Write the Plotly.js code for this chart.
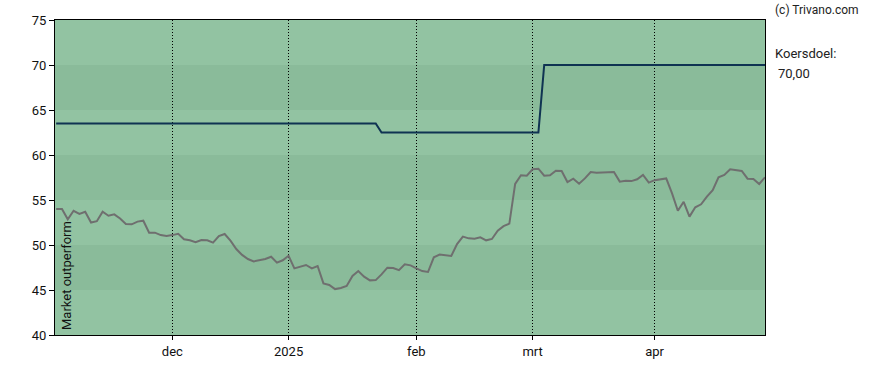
<!DOCTYPE html>
<html>
<head>
<meta charset="utf-8">
<script src="https://cdn.plot.ly/plotly-3.0.1.min.js"></script>
<style>html,body{margin:0;padding:0;background:#fff;}#chart{width:888px;height:370px;}</style>
</head>
<body>
<div id="chart"></div>
<script>
// Price (trading-day series)
const price = [
54.0,54.0,52.85,53.8,53.45,53.7,52.5,52.65,53.7,53.25,
53.4,52.95,52.33,52.3,52.6,52.7,51.37,51.37,51.1,51.0,
51.1,51.25,50.63,50.52,50.3,50.55,50.52,50.26,51.0,51.22,
50.48,49.55,48.9,48.44,48.18,48.3,48.44,48.7,48.04,48.3,
48.8,47.4,47.6,47.78,47.4,47.67,45.74,45.56,45.1,45.22,
45.44,46.56,47.1,46.48,46.07,46.1,46.74,47.48,47.44,47.2,
47.85,47.74,47.4,47.1,47.0,48.63,48.93,48.82,48.78,50.1,
50.93,50.74,50.7,50.85,50.52,50.67,51.6,52.1,52.37,56.78,
57.75,57.7,58.41,58.48,57.7,57.74,58.26,58.22,57.0,57.37,
56.81,57.4,58.1,58.04,58.04,58.07,58.1,57.04,57.15,57.1,
57.3,57.78,56.93,57.2,57.33,57.4,55.74,53.8,54.8,53.15,
54.19,54.52,55.37,56.1,57.52,57.78,58.41,58.3,58.22,57.37,
57.33,56.78,57.52
];
// Koersdoel (target price) per trading day
const targetLevels = [63.5, 62.5, 70.0];
const targetChangeAt = [56, 84]; // day index where a new level starts
const monthTickPos = [20, 40, 62, 82, 103];
const monthTickText = ['dec', '2025', 'feb', 'mrt', 'apr'];
const yTicks = [40, 45, 50, 55, 60, 65, 70, 75];
const bandsDark = [[45, 50], [55, 60], [65, 70]];

const days = price.map((_, i) => i);
const target = days.map(i => i < targetChangeAt[0] ? targetLevels[0] : (i < targetChangeAt[1] ? targetLevels[1] : targetLevels[2]));

const shapes = bandsDark.map(b => ({
  type: 'rect', xref: 'paper', yref: 'y', x0: 0, x1: 1, y0: b[0], y1: b[1],
  fillcolor: '#8abb9a', line: {width: 0}, layer: 'below'
}));

const data = [
  {x: days, y: price, type: 'scatter', mode: 'lines', line: {color: '#6f6f6f', width: 2}, hoverinfo: 'skip'},
  {x: days, y: target, type: 'scatter', mode: 'lines', line: {color: '#0f3352', width: 2}, hoverinfo: 'skip'}
];

const layout = {
  width: 888, height: 370,
  margin: {l: 55, r: 123, t: 20, b: 35},
  paper_bgcolor: '#ffffff',
  plot_bgcolor: '#92c3a2',
  showlegend: false,
  font: {family: 'Roboto, Arial, sans-serif', size: 13, color: '#111'},
  xaxis: {
    range: [-0.2, price.length - 1],
    tickmode: 'array', tickvals: monthTickPos, ticktext: monthTickText,
    showgrid: true, gridcolor: '#000', griddash: '1px,2px', gridwidth: 1,
    showline: true, linecolor: '#000', linewidth: 1, mirror: true,
    ticks: 'outside', ticklen: 4, tickcolor: '#000',
    zeroline: false, fixedrange: true
  },
  yaxis: {
    range: [40, 75],
    tickmode: 'array', tickvals: yTicks,
    showgrid: false,
    showline: true, linecolor: '#000', linewidth: 1, mirror: true,
    ticks: 'outside', ticklen: 5, tickcolor: '#000',
    zeroline: false, fixedrange: true
  },
  shapes: shapes,
  annotations: [
    {xref: 'paper', yref: 'paper', x: 1, y: 1, xshift: 8, yshift: 19, xanchor: 'left', yanchor: 'top',
     text: '(c) Trivano.com', showarrow: false, font: {size: 12, color: '#222'}},
    {xref: 'paper', yref: 'y', x: 1, y: 70, xshift: 8, yshift: 2, xanchor: 'left', yanchor: 'bottom',
     text: 'Koersdoel:', showarrow: false, font: {size: 13, color: '#222'}},
    {xref: 'paper', yref: 'y', x: 1, y: 70, xshift: 11, yshift: 1, xanchor: 'left', yanchor: 'top',
     text: '70,00', showarrow: false, font: {size: 13, color: '#222'}},
    {xref: 'paper', yref: 'y', x: 0, y: 40, xshift: 2, yshift: 3, xanchor: 'left', yanchor: 'bottom',
     text: 'Market outperform', textangle: -90, showarrow: false, font: {size: 13, color: '#111'}}
  ]
};

Plotly.newPlot('chart', data, layout, {displayModeBar: false, staticPlot: true});
</script>
</body>
</html>
